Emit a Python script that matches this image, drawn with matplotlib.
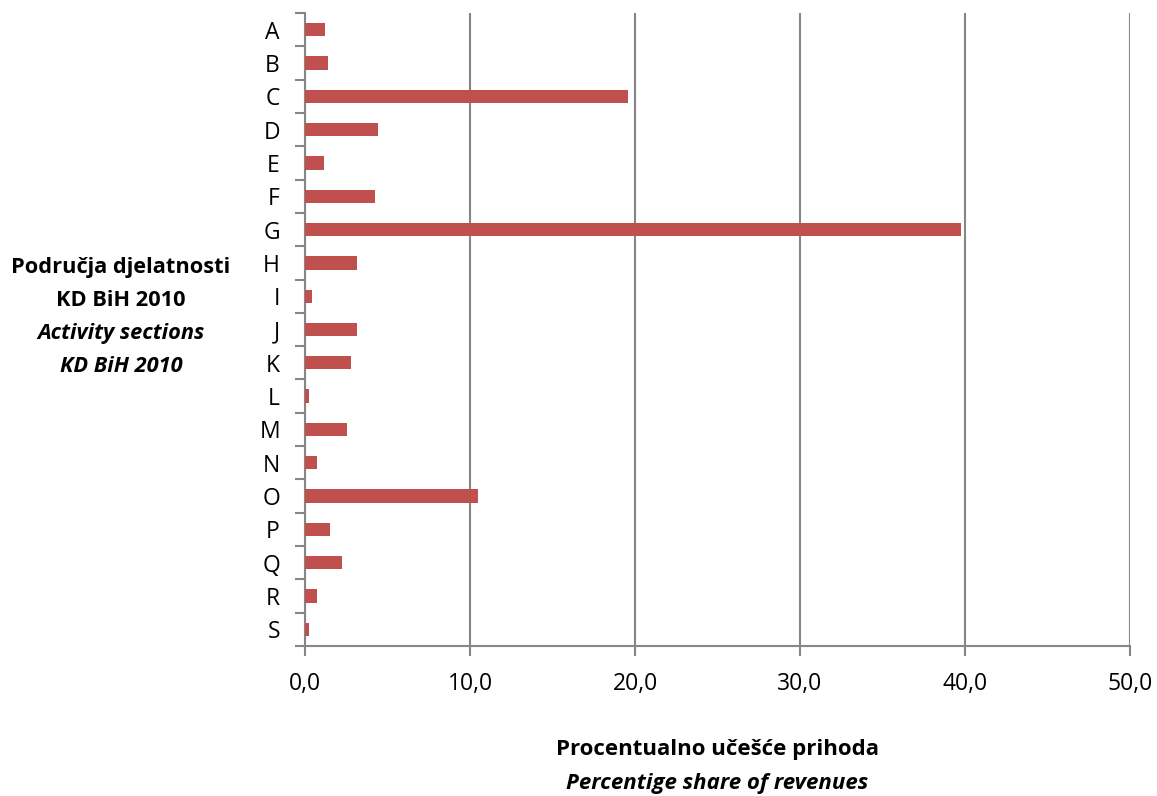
import numpy as np
import matplotlib.pyplot as plt

# Activity sections and their share of revenues (%)
sections = ['A', 'B', 'C', 'D', 'E', 'F', 'G', 'H', 'I', 'J',
            'K', 'L', 'M', 'N', 'O', 'P', 'Q', 'R', 'S']
shares = [1.2, 1.4, 19.6, 4.45, 1.15, 4.25, 39.75, 3.15, 0.42, 3.15,
          2.8, 0.24, 2.57, 0.72, 10.5, 1.52, 2.25, 0.7, 0.24]
xticks = [0, 10, 20, 30, 40, 50]

plt.rcParams['font.family'] = ['Open Sans', 'DejaVu Sans']

fig = plt.figure(figsize=(11.57, 7.96), dpi=100)
W, H = 1157, 796
ax = fig.add_axes([305 / W, 1 - 646 / H, (1130 - 305) / W, (646 - 13) / H])

y = np.arange(len(sections))
ax.barh(y, shares, height=0.4, color='#c0504d', zorder=3)

ax.set_ylim(len(sections) - 0.5, -0.5)
ax.set_xlim(0, 50)

# category ticks sit on boundaries, labels centred on bars
ax.set_yticks(np.arange(len(sections) + 1) - 0.5)
ax.set_yticklabels([])
ax.set_yticks(y, minor=True)
ax.set_yticklabels(sections, minor=True, fontsize=16.5)
ax.tick_params(axis='y', which='minor', length=0, pad=18)
ax.tick_params(axis='y', which='major', length=7, width=1.5, color='#868686')

ax.set_xticks(xticks)
ax.set_xticklabels([f'{v:.1f}'.replace('.', ',') for v in xticks], fontsize=16.5)
ax.tick_params(axis='x', length=7, width=1.5, color='#868686', pad=12)

ax.grid(axis='x', color='#868686', linewidth=1.5, zorder=0)
for side in ['top', 'right']:
    ax.spines[side].set_visible(False)
for side in ['left', 'bottom']:
    ax.spines[side].set_color('#868686')
    ax.spines[side].set_linewidth(1.5)

# axis titles (bold / bold italic lines)
fig.text(121 / W, 1 - 268 / H, 'Područja djelatnosti', ha='center', va='center',
         fontsize=15.7, fontweight='bold')
fig.text(121 / W, 1 - 300 / H, 'KD BiH 2010', ha='center', va='center',
         fontsize=15.7, fontweight='bold')
fig.text(121 / W, 1 - 333 / H, 'Activity sections', ha='center', va='center',
         fontsize=15.7, fontweight='bold', style='italic')
fig.text(121 / W, 1 - 366 / H, 'KD BiH 2010', ha='center', va='center',
         fontsize=15.7, fontweight='bold', style='italic')

fig.text(717 / W, 1 - 750 / H, 'Procentualno učešće prihoda', ha='center', va='center',
         fontsize=16, fontweight='bold')
fig.text(717 / W, 1 - 783 / H, 'Percentige share of revenues', ha='center', va='center',
         fontsize=16, fontweight='bold', style='italic')

plt.savefig('out.png', dpi=100)
